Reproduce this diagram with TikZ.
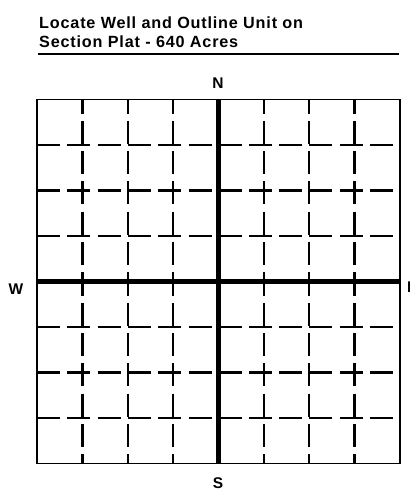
\documentclass[tikz,border=0pt]{standalone}
\usepackage{fontspec}
\setmainfont{Liberation Sans}
\newfontfamily\titlefont{Liberation Sans}[LetterSpace=5]
\usetikzlibrary{positioning}

\begin{document}
\begin{tikzpicture}[x=1pt,y=-1pt,
    platdash/.style={line width=2.3pt,dash pattern=on 23pt off 7.3pt},
    platline/.style={line width=5pt},
    compass/.style={inner sep=0pt,font=\fontsize{15.5}{15.5}\selectfont\bfseries},
    heading/.style={anchor=base west,inner sep=0pt,font=\titlefont\fontsize{16.2}{16.2}\selectfont\bfseries}]
    \useasboundingbox (0,0) rectangle (410,496);
    % title
    \node[heading] (title1) at (39,28) {Locate Well and Outline Unit on};
    \node[heading] (title2) at (39,47) {Section Plat - 640 Acres};
    \draw[line width=2pt] (38,53.5) -- (399,53.5);
    % corners of the section
    \coordinate (nw) at (37,99.5);
    \coordinate (se) at (400,463.5);
    % quarter-quarter lines
    \foreach \i in {1,2,3,5,6,7} {
      \draw[platdash,dash phase=9pt] (37+\i*45.375,99.5) -- (37+\i*45.375,281.5);
      \draw[platdash,dash phase=9pt] (37+\i*45.375,281.5) -- (37+\i*45.375,463.5);
      \draw[platdash] (37,99.5+\i*45.5) -- (218.5,99.5+\i*45.5);
      \draw[platdash] (218.5,99.5+\i*45.5) -- (400,99.5+\i*45.5);
    }
    % quarter lines + frame
    \draw[platline] (218.5,99.5) -- (218.5,463.5);
    \draw[platline] (37,281.5) -- (400,281.5);
    \draw[line width=1.6pt] (nw) rectangle (se);
    % compass points
    \node[compass] (north) at (218,83.5) {N};
    \node[compass] (south) at (218,483.5) {S};
    \node[compass] (west) at (16,289.5) {W};
    \node[compass,anchor=west] (east) at (406.8,287.5) {E};
  \end{tikzpicture}
\end{document}
